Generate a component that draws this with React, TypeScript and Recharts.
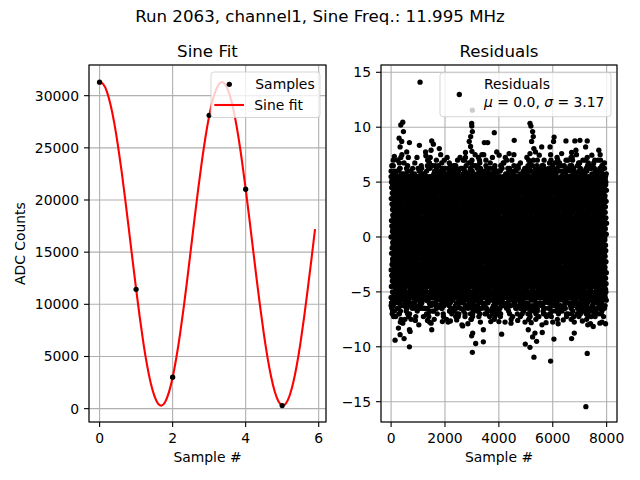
import React from "react";
import {
  ComposedChart,
  ScatterChart,
  Scatter,
  Line,
  XAxis,
  YAxis,
  CartesianGrid,
} from "recharts";

// left panel: ADC samples and the fitted sine
const sampleIdx = [0, 1, 2, 3, 4, 5];
const sampleAdc = [31290, 11440, 3010, 28120, 21030, 290];

const fitX = [
  0, 0.1, 0.2, 0.3, 0.4, 0.5, 0.6, 0.7, 0.8, 0.9, 1, 1.1, 1.2, 1.3, 1.4, 1.5,
  1.6, 1.7, 1.8, 1.9, 2, 2.1, 2.2, 2.3, 2.4, 2.5, 2.6, 2.7, 2.8, 2.9, 3, 3.1,
  3.2, 3.3, 3.4, 3.5, 3.6, 3.7, 3.8, 3.9, 4, 4.1, 4.2, 4.3, 4.4, 4.5, 4.6, 4.7,
  4.8, 4.9, 5, 5.1, 5.2, 5.3, 5.4, 5.5, 5.6, 5.7, 5.8, 5.9,
];
const fitAdc = [
  31290, 31110, 30380, 29130, 27420, 25270, 22830, 20110, 17250, 14330, 11470,
  8760, 6290, 4170, 2450, 1220, 490, 300, 670, 1580, 2990, 4850, 7080, 9610,
  12360, 15300, 18220, 21040, 23680, 26040, 28040, 29600, 30680, 31230, 31230,
  30690, 29620, 28060, 26070, 23710, 21070, 18260, 15340, 12450, 9680, 7110,
  4870, 3010, 1590, 680, 310, 490, 1210, 2450, 4160, 6280, 8740, 11460, 14290,
  17210,
];

const leftXTicks = [0, 2, 4, 6];
const leftYTicks = [0, 5000, 10000, 15000, 20000, 25000, 30000];

// right panel: residuals. The dense band is kept as level letters
// (A..S = -4.5..4.5, a..s = -4.25..4.75), the ragged edges and tails as
// letters a..p = 4.75..8.5 in size, and the lone points as x/y pairs.
const coreBlocks = [
  "JDQAMGSCLPEHRBKOFIN", "eksbohcqmajrfldpign", "HNBRKFAPMSDJGQCLEIO",
  "qcjmagrelsbnhkdpfio", "MASFKDPBQHJNCRGLIEO", "ngbqjsdlhamkfpcreio",
  "CPKHSAMFRJDOLBQGNIE", "lrcjpaemgsbhoknfqdi", "RBGMDSJAOEKQHCNFPLI",
  "dpalgrjcnsehqbmkfio", "KEPBSHMCRAGOJDQFLIN", "hcrmaskfpdjbogleqin",
  "MASFKDPBQHJNCRGLIEO", "lrcjpaemgsbhoknfqdi", "RBGMDSJAOEKQHCNFPLI",
  "eksbohcqmajrfldpign", "HNBRKFAPMSDJGQCLEIO", "hcrmaskfpdjbogleqin",
  "CPKHSAMFRJDOLBQGNIE", "qcjmagrelsbnhkdpfio", "KEPBSHMCRAGOJDQFLIN",
  "ngbqjsdlhamkfpcreio", "JDQAMGSCLPEHRBKOFIN", "dpalgrjcnsehqbmkfio",
  "RBGMDSJAOEKQHCNFPLI", "qcjmagrelsbnhkdpfio", "JDQAMGSCLPEHRBKOFIN",
  "lrcjpaemgsbhoknfqdi", "KEPBSHMCRAGOJDQFLIN", "eksbohcqmajrfldpign",
  "CPKHSAMFRJDOLBQGNIE", "dpalgrjcnsehqbmkfio", "HNBRKFAPMSDJGQCLEIO",
  "ngbqjsdlhamkfpcreio", "MASFKDPBQHJNCRGLIEO", "hcrmaskfpdjbogleqin",
  "CPKHSAMFRJDOLBQGNIE", "eksbohcqmajrfldpign", "MASFKDPBQHJNCRGLIEO",
  "dpalgrjcnsehqbmkfio", "JDQAMGSCLPEHRBKOFIN", "hcrmaskfpdjbogleqin",
  "RBGMDSJAOEKQHCNFPLI", "ngbqjsdlhamkfpcreio", "KEPBSHMCRAGOJDQFLIN",
  "lrcjpaemgsbhoknfqdi", "HNBRKFAPMSDJGQCLEIO", "qcjmagrelsbnhkdpfio",
  "HNBRKFAPMSDJGQCLEIO", "ngbqjsdlhamkfpcreio", "KEPBSHMCRAGOJDQFLIN",
  "qcjmagrelsbnhkdpfio", "MASFKDPBQHJNCRGLIEO", "eksbohcqmajrfldpign",
  "RBGMDSJAOEKQHCNFPLI", "lrcjpaemgsbhoknfqdi", "JDQAMGSCLPEHRBKOFIN",
  "hcrmaskfpdjbogleqin", "CPKHSAMFRJDOLBQGNIE", "dpalgrjcnsehqbmkfio",
  "NIFOKBRHEPLCSGMAQDJ", "ngipdlfrjamqchobske", "OIELCQGJDSMPAFKRBNH",
  "oifpdkhnbslergamjcq", "OEILGRCNJHQBPDKFSAM", "oiercpfkmahldsjqbgn",
  "EINGQBLODJRFMASHKPC", "idqfnkohbsgmeapjcrl", "ILPFNCHQKEOAJSDMGBR",
  "oifkmbqhesncjrglapd", "NILFQDJOGARCMHSBPEK", "niqelgobjdpfksamrch",
  "ILPFNCHQKEOAJSDMGBR", "oifpdkhnbslergamjcq", "EINGQBLODJRFMASHKPC",
  "oifkmbqhesncjrglapd", "NIFOKBRHEPLCSGMAQDJ", "oiercpfkmahldsjqbgn",
  "NILFQDJOGARCMHSBPEK", "ngipdlfrjamqchobske", "OIELCQGJDSMPAFKRBNH",
  "idqfnkohbsgmeapjcrl", "OEILGRCNJHQBPDKFSAM", "niqelgobjdpfksamrch",
  "OIELCQGJDSMPAFKRBNH", "oifkmbqhesncjrglapd", "OEILGRCNJHQBPDKFSAM",
  "ngipdlfrjamqchobske", "ILPFNCHQKEOAJSDMGBR", "idqfnkohbsgmeapjcrl",
  "NIFOKBRHEPLCSGMAQDJ", "oifpdkhnbslergamjcq", "NILFQDJOGARCMHSBPEK",
  "niqelgobjdpfksamrch", "EINGQBLODJRFMASHKPC", "oiercpfkmahldsjqbgn",
  "NILFQDJOGARCMHSBPEK", "idqfnkohbsgmeapjcrl", "NIFOKBRHEPLCSGMAQDJ",
  "niqelgobjdpfksamrch", "EINGQBLODJRFMASHKPC", "ngipdlfrjamqchobske",
  "OIELCQGJDSMPAFKRBNH", "oiercpfkmahldsjqbgn", "ILPFNCHQKEOAJSDMGBR",
  "oifpdkhnbslergamjcq", "OEILGRCNJHQBPDKFSAM", "oifkmbqhesncjrglapd",
  "OEILGRCNJHQBPDKFSAM", "oiercpfkmahldsjqbgn", "ILPFNCHQKEOAJSDMGBR",
  "niqelgobjdpfksamrch", "OIELCQGJDSMPAFKRBNH", "ngipdlfrjamqchobske",
  "NILFQDJOGARCMHSBPEK", "oifpdkhnbslergamjcq", "EINGQBLODJRFMASHKPC",
  "oifkmbqhesncjrglapd", "NIFOKBRHEPLCSGMAQDJ", "idqfnkohbsgmeapjcrl",
];

const fringeHigh = [
  "dbhcaejbfc", "bcadbfacdb", "cfaidgbkce", "adcbeadbca", "bdagcfhadb",
  "cbdacfbdae", "acbdaebcad", "dacbdgacbd", "bfcaegdbca", "bdaecbadcf",
  "dhbjcgaidk", "acdbhacbde", "cfbhdaegbc", "cbadfbdace", "aicgbdfajc",
  "dbcaedbacg", "bdfachbegd", "abdcfacdbe", "cagdbjeafb", "cdabgbdacb",
  "ejcgafdkbh", "bacdeadbcf", "dgbicjfhae", "dcbahcabde", "bhdkcfaibg",
  "adbcfdacbe", "cfbdjaegcb", "cbdagbcdae", "dacgbefdah", "dabcebdacf",
  "bcadfbhcag", "bcdaicabde", "acjdbgaefc", "acbdfdbace", "dbhacfbdga",
  "dbacgacdbe", "bacdaebcfa", "cadbebdcaf", "ehcjdgbiaf", "bdcahcadbe",
  "cdgbfahjce", "abcdfbdace", "bfadhcegbd", "cdbaeacdbg", "cigdajbfeh",
  "dacbfcbdae", "dbgcjafhci", "bcadhdacbe", "achdbgejbf", "acdbgbcdaf",
  "dkbhcjaegd", "dbcaeadbch", "bhcfaidgbe", "cabdfcdbae", "cjbgdfahci",
  "bdacgbacde", "dbhaecgjbf", "adcbebdacf", "cgbjdafhce", "cbdaiacdbe",
];

const fringeLow = [
  "dfhjbegkci", "cbdaeacfdb", "ehcjfaiglb", "dacbgbdace", "fbidhcjegk",
  "bdcafcadbh", "cdbfaechdg", "acdbedbcag", "bfdgcaehbd", "cbadhacdbe",
  "ehcjdkfbig", "dbcafbdaci", "cfbdgaehcb", "abdcgcadbe", "dhbfcjaegd",
  "cdabedbacf", "bgdiafchej", "bacdhacdbg", "dhfcjbgkae", "dcbafbdace",
  "fcidhbjegc", "adbcgdacbf", "ejgldhbkfi", "cbdaebcdah", "dgbifchjae",
  "dabcfbdacg", "cgdhbfjaei", "bcdaeacdbi", "dhcjbgeifk", "acbdhdbace",
  "bfchdjaegb", "dbacfacdbg", "dcgbfhaiec", "cadbgbdcae", "bdacfbgdah",
  "bdcaeacdbh", "cfdhbjegic", "abcdfbdacg", "fjdlchgkbi", "cdbahacdbe",
  "ehcjfbgidk", "dacbfcbdag", "cgdibhfjae", "bcadedacbh", "dhcjfbkegi",
  "acdbgbcdaf", "cfdhbgjaei", "dbcahadbce", "bdgcfheajc", "cabdfcdbag",
  "dhcjfbigek", "bdacebacdh", "cgbidfhjae", "adcbgbdacf", "ehcjdgbfki",
  "cbdaeacdbi", "dgfihcjbke", "dcabfbadcg", "chdgbjfiae", "bacdhcdabe",
];

const tailHigh = [
  "fhejgliekf", "gikfhemjgh", "ejhlfgkieh", "hfkgjeifhl", "gjelhfikgm",
  "fhikegjlfh", "iegkhfjmeg", "hjfelgikhf", "egjhkfliej", "fkhgiejlhg",
];

const tailLow = [
  "gifkhjmegl", "hejlgfkinh", "fkhjemgilf", "jgehkflmih", "eikgjhnfkg",
  "hfljgeikmh", "gjhfkielgj", "ikegmhfjlk", "fhjgkeimhg", "jegilhkfnj",
  "hkfjgmeilh", "gihekjflgm", "fjkhgieljh", "kgfihjemkg",
];

const outlierIdx = [
  1075, 3016, 433, 360, 457, 297, 395, 334, 680, 1050, 1508, 1570, 1483, 1790,
  2990, 2995, 3016, 2954, 2900, 2950, 3000, 3830, 4570, 3460, 3585, 5155, 5190,
  5253, 5277, 5216, 5300, 5155, 5590, 5900, 6030, 6050, 6490, 6820, 7010, 7280,
  7710, 6860, 7220, 580, 2760, 4380, 1290, 3370, 6330, 7450, 120, 4010, 5500,
  6700,
  148, 680, 334, 482, 680, 705, 433, 272, 1483, 1508, 1903, 2657, 2435, 3016,
  3140, 3424, 3028, 2990, 3424, 4103, 4450, 4981, 5154, 5302, 5401, 5253, 5340,
  5092, 5611, 5920, 6044, 6390, 6700, 6800, 7280, 7230, 7503, 7750, 7960, 900,
  1350, 2200, 3700, 4000, 4700, 5750, 6200, 7100, 7400, 2850, 5200, 7300,
];
const outlierRes = [
  14.1, 11.55, 10.45, 10.2, 9.6, 9.0, 8.7, 8.2, 8.6, 8.35, 8.75, 8.45, 7.9,
  8.05, 10.35, 10.1, 9.6, 9.15, 8.7, 8.25, 7.8, 9.5, 8.8, 8.6, 8.6, 10.35, 10.1,
  9.6, 9.15, 8.7, 8.05, 7.6, 8.2, 8.2, 8.7, 9.1, 8.75, 8.75, 8.8, 8.75, 7.9,
  7.9, 8.2, 7.75, 7.7, 7.6, 7.4, 7.5, 7.6, 7.45, 7.35, 7.45, 7.45, 7.7,
  -9.4, -10.0, -8.9, -9.25, -8.45, -8.6, -7.85, -8.3, -7.85, -8.45, -7.7, -8.1,
  -7.55, -10.5, -9.7, -9.55, -8.75, -9.0, -8.45, -8.85, -7.85, -9.75, -10.05,
  -10.95, -9.5, -9.1, -8.75, -8.45, -8.7, -11.3, -9.3, -7.55, -9.25, -8.75,
  -10.6, -15.45, -8.15, -7.85, -7.9, -7.6, -7.6, -7.65, -7.7, -7.7, -7.6, -7.8,
  -7.9, -7.65, -7.9, -7.9, -7.8, -8.0,
];

const rightXTicks = [0, 2000, 4000, 6000, 8000];
const rightYTicks = [-15, -10, -5, 0, 5, 10, 15];
const SAMPLE_COUNT = 8000;

const samplesData = sampleIdx.map((x, i) => ({ x, y: sampleAdc[i] }));
const fitData = fitX.map((x, i) => ({ x, y: fitAdc[i] }));

function coreLevel(ch: string) {
  const c = ch.charCodeAt(0);
  return c >= 97 ? (c - 97) * 0.5 - 4.25 : (c - 65) * 0.5 - 4.5;
}

function fringeSize(ch: string) {
  return 4.75 + (ch.charCodeAt(0) - 97) * 0.25;
}

function spread(chars: string, toY: (ch: string) => number) {
  return chars.split("").map((ch, i) => ({
    x: Math.round((i * SAMPLE_COUNT) / chars.length),
    y: toY(ch),
  }));
}

const residualData = [
  ...spread(coreBlocks.join(""), coreLevel),
  ...spread(fringeHigh.join(""), fringeSize),
  ...spread(fringeLow.join(""), (ch) => -fringeSize(ch)),
  ...spread(tailHigh.join(""), fringeSize),
  ...spread(tailLow.join(""), (ch) => -fringeSize(ch)),
  ...outlierIdx.map((x, i) => ({ x, y: outlierRes[i] })),
];

const FONT = "DejaVu Sans";
const tickStyle = { fill: "#000", fontSize: 13.9, fontFamily: FONT };
const minus = (v: number) => String(v).replace("-", "\u2212");

const Dot = (props: any) => (
  <circle cx={props.cx} cy={props.cy} r={2.65} fill="#000" />
);

export default function App() {
  return (
    <div
      style={{
        position: "absolute",
        left: 0,
        top: 0,
        width: 640,
        height: 480,
        background: "#fff",
        fontFamily: FONT,
      }}
    >
      <div style={{ position: "absolute", left: 0, top: 0 }}>
        <ComposedChart
          width={340}
          height={480}
          margin={{ top: 65, right: 14, bottom: 0, left: 0 }}
        >
          <CartesianGrid stroke="#b0b0b0" strokeWidth={1.1} />
          <XAxis
            type="number"
            dataKey="x"
            domain={[-0.29, 6.2]}
            ticks={leftXTicks}
            interval={0}
            allowDataOverflow
            height={58}
            axisLine={false}
            tickLine={{ stroke: "#000", strokeWidth: 1.1 }}
            tickSize={5}
            tickMargin={6}
            tick={tickStyle}
          />
          <YAxis
            type="number"
            dataKey="y"
            domain={[-1280, 32940]}
            ticks={leftYTicks}
            interval={0}
            allowDataOverflow
            width={89}
            axisLine={false}
            tickLine={{ stroke: "#000", strokeWidth: 1.1 }}
            tickSize={5}
            tickMargin={5}
            tick={tickStyle}
          />
          <Line
            data={fitData}
            dataKey="y"
            type="natural"
            stroke="#ff0000"
            strokeWidth={2.1}
            dot={false}
            isAnimationActive={false}
          />
          <Scatter
            data={samplesData}
            dataKey="y"
            shape={Dot}
            isAnimationActive={false}
          />
        </ComposedChart>
      </div>

      <div style={{ position: "absolute", left: 340, top: 0 }}>
        <ScatterChart
          width={300}
          height={480}
          margin={{ top: 65, right: 23, bottom: 0, left: 0 }}
        >
          <CartesianGrid stroke="#b0b0b0" strokeWidth={1.1} />
          <XAxis
            type="number"
            dataKey="x"
            domain={[-375, 8385]}
            ticks={rightXTicks}
            interval={0}
            allowDataOverflow
            height={58}
            axisLine={false}
            tickLine={{ stroke: "#000", strokeWidth: 1.1 }}
            tickSize={5}
            tickMargin={6}
            tick={tickStyle}
          />
          <YAxis
            type="number"
            dataKey="y"
            domain={[-16.85, 15.665]}
            ticks={rightYTicks}
            interval={0}
            allowDataOverflow
            width={41}
            axisLine={false}
            tickLine={{ stroke: "#000", strokeWidth: 1.1 }}
            tickSize={5}
            tickMargin={5}
            tick={tickStyle}
            tickFormatter={minus}
          />
          <Scatter
            data={residualData}
            shape={Dot}
            isAnimationActive={false}
          />
        </ScatterChart>
      </div>

      <svg
        width={640}
        height={480}
        style={{ position: "absolute", left: 0, top: 0, pointerEvents: "none" }}
        fontFamily={FONT}
      >
        <text x={320} y={22.3} fontSize={16.67} textAnchor="middle">
          Run 2063, channel1, Sine Freq.: 11.995 MHz
        </text>
        <text x={207.5} y={57.3} fontSize={16.67} textAnchor="middle">
          Sine Fit
        </text>
        <text x={499} y={57.3} fontSize={16.67} textAnchor="middle">
          Residuals
        </text>
        <text x={207.5} y={461.8} fontSize={13.9} textAnchor="middle">
          Sample #
        </text>
        <text x={499} y={461.8} fontSize={13.9} textAnchor="middle">
          Sample #
        </text>
        <text
          x={0}
          y={0}
          fontSize={13.9}
          textAnchor="middle"
          transform="translate(25.1 243.6) rotate(-90)"
        >
          ADC Counts
        </text>

        <rect x={89} y={65} width={237} height={357} fill="none" stroke="#000" strokeWidth={1.1} />
        <rect x={381} y={65} width={236} height={357} fill="none" stroke="#000" strokeWidth={1.1} />

        <rect
          x={211}
          y={72}
          width={109}
          height={45.5}
          rx={3}
          fill="rgba(255,255,255,0.8)"
          stroke="rgba(204,204,204,0.8)"
          strokeWidth={1}
        />
        <circle cx={229.3} cy={84.3} r={2.65} fill="#000" />
        <text x={255.3} y={89.3} fontSize={13.9}>Samples</text>
        <line x1={214.3} x2={244} y1={105} y2={105} stroke="#ff0000" strokeWidth={2.1} />
        <text x={254.3} y={110} fontSize={13.9}>Sine fit</text>

        <rect
          x={440}
          y={72.7}
          width={171}
          height={44}
          rx={3}
          fill="rgba(255,255,255,0.8)"
          stroke="rgba(204,204,204,0.8)"
          strokeWidth={1}
        />
        <circle cx={459.3} cy={94.5} r={2.65} fill="#000" />
        <text x={484} y={89.3} fontSize={13.9}>Residuals</text>
        <text x={484} y={106.5} fontSize={13.9}>
          <tspan fontStyle="italic">μ</tspan> = 0.0, <tspan fontStyle="italic">σ</tspan> = 3.17
        </text>
      </svg>
    </div>
  );
}
